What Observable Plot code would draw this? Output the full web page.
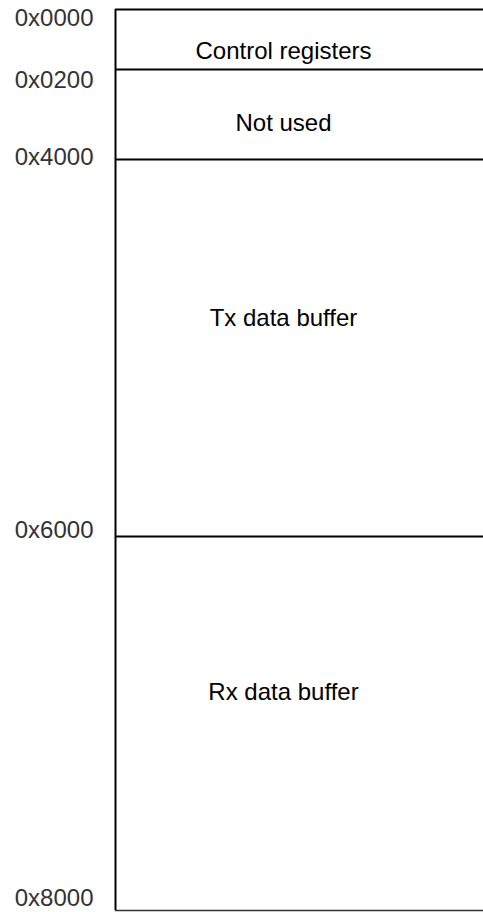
<!DOCTYPE html>
<html>
<head>
<meta charset="utf-8">
<script src="https://cdn.jsdelivr.net/npm/d3@7"></script>
<script src="https://cdn.jsdelivr.net/npm/@observablehq/plot@0.6"></script>
<style>
  html, body { margin: 0; padding: 0; background: #fff; }
  #chart svg { display: block; }
</style>
</head>
<body>
<div id="chart"></div>
<script>
// ---- data ----
const boundaries = [0x0000, 0x0200, 0x4000, 0x6000, 0x8000];
const boundaryLabels = ["0x0000", "0x0200", "0x4000", "0x6000", "0x8000"];
const regionNames = ["Control registers", "Not used", "Tx data buffer", "Rx data buffer"];
const regionStart = [0x0000, 0x0200, 0x4000, 0x6000];
const regionEnd = [0x0200, 0x4000, 0x6000, 0x8000];

// ---- layout / style ----
const W = 483, H = 912;
const yRange = [9, 69, 159, 536, 910];       // non-proportional memory-map drawing
const labelFrac = [0.69, 0.6, 0.42, 0.417];  // where each name sits inside its block
const tickNudge = [9, 11, -2, -6, -12];      // vertical nudge for each address label
const font = "Liberation Sans, Arial, Helvetica, sans-serif";

const regions = regionNames.map((name, i) => ({
  name,
  at: regionStart[i] + labelFrac[i] * (regionEnd[i] - regionStart[i])
}));
const ticks = boundaries.map((v, i) => ({v, label: boundaryLabels[i]}));

const tickMarks = ticks.map((t, i) =>
  Plot.text([t], {
    y: "v", text: "label", frameAnchor: "left", textAnchor: "end",
    dx: -22, dy: tickNudge[i], fontSize: 24, fill: "#333"
  })
);

const chart = Plot.plot({
  width: W,
  height: H,
  marginLeft: 115,
  marginRight: 0,
  marginTop: 0,
  marginBottom: 0,
  style: {fontFamily: font, background: "#fff", overflow: "visible"},
  x: {domain: [0, 1], axis: null},
  y: {domain: boundaries, range: yRange, axis: null, type: "linear"},
  marks: [
    Plot.ruleY(boundaries.slice(0, -1), {stroke: "#000", strokeWidth: 2}),
    Plot.ruleY(boundaries.slice(-1), {stroke: "#333", strokeWidth: 1.5}),
    Plot.ruleX([0], {y1: boundaries[0], y2: boundaries[boundaries.length - 1], stroke: "#000", strokeWidth: 2}),
    Plot.text(regions, {y: "at", text: "name", frameAnchor: "middle", dx: -16, fontSize: 24, fill: "#000"}),
    ...tickMarks
  ]
});

document.getElementById("chart").appendChild(chart);
</script>
</body>
</html>
